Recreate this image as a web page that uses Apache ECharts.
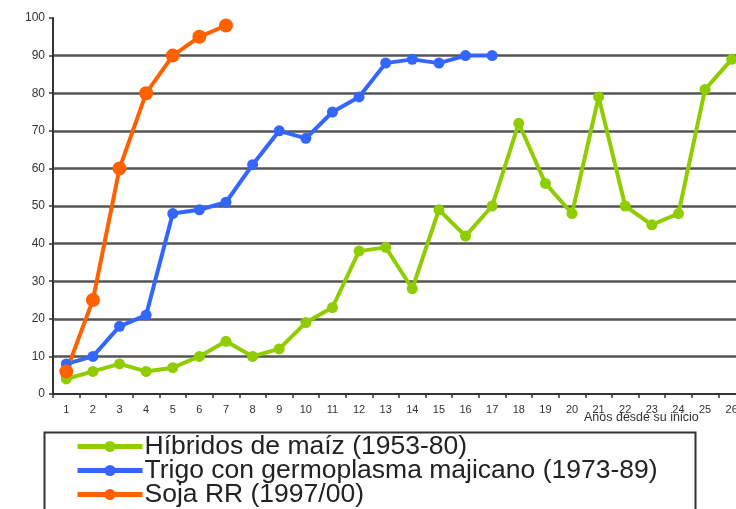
<!DOCTYPE html>
<html><head><meta charset="utf-8">
<script src="https://cdn.jsdelivr.net/npm/echarts@6/dist/echarts.min.js"></script>
<style>html,body{margin:0;padding:0;background:#fff;overflow:hidden;width:736px;height:509px}#c{width:745px;height:540px}</style>
</head><body><div id="c"></div>
<script>
const categories = ['1','2','3','4','5','6','7','8','9','10','11','12','13','14','15','16','17','18','19','20','21','22','23','24','25','26'];
const maiz = [4,6,8,6,7,10,14,10,12,19,23,38,39,28,49,42,50,72,56,48,79,50,45,48,81,89];
const trigo = [8,10,18,21,48,49,51,61,70,68,75,79,88,89,88,90,90];
const soja = [6,25,60,80,90,95,98];
const seriesNames = ['Híbridos de maíz (1953-80)','Trigo con germoplasma majicano (1973-89)','Soja RR (1997/00)'];
const axisTitle = 'Años desde su inicio';

const chart = echarts.init(document.getElementById('c'));
const mk = (name, data, color, sym) => ({
  name, type: 'line', data, symbol: 'circle', symbolSize: sym,
  itemStyle: {color}, lineStyle: {color, width: 4}, animation: false
});
chart.setOption({
  animation: false,
  grid: {left: 53, top: 18, bottom: 146, right: 0, containLabel: false},
  xAxis: {
    type: 'category', data: categories, boundaryGap: true,
    axisLine: {lineStyle: {color: '#333', width: 2}},
    axisTick: {show: true, alignWithLabel: false, length: 4, lineStyle: {color: '#333', width: 1.5}},
    axisLabel: {color: '#333', fontSize: 11, fontFamily: 'Liberation Sans', margin: 10, interval: 0}
  },
  yAxis: {
    type: 'value', min: 0, max: 100, interval: 10,
    axisLine: {show: true, lineStyle: {color: '#333', width: 2}},
    axisTick: {show: true, length: 4, lineStyle: {color: '#333', width: 1.5}},
    axisLabel: {color: '#333', fontSize: 12, fontFamily: 'Liberation Sans', margin: 8},
    splitLine: {show: true, showMaxLine: false, showMinLine: false, lineStyle: {color: '#555', width: 2.5}}
  },
  legend: {
    orient: 'vertical', left: 75, top: 433, padding: 0, itemGap: -3,
    itemWidth: 65, itemHeight: 14,
    lineStyle: {width: 5},
    textStyle: {fontSize: 26.5, lineHeight: 24, color: '#222', fontFamily: 'Liberation Sans', padding: [0, 0, 0, -3]},
    data: seriesNames
  },
  graphic: [
    {type: 'rect', left: 42, top: 430, shape: {width: 651, height: 120},
     style: {fill: 'none', stroke: '#333', lineWidth: 2}, z: -1},
    {type: 'text', left: 584, top: 411, style: {text: axisTitle, fontSize: 12.5, fill: '#333', fontFamily: 'Liberation Sans'}}
  ],
  series: [
    mk(seriesNames[0], maiz, '#8fcc00', 11),
    mk(seriesNames[1], trigo, '#3366ff', 11),
    mk(seriesNames[2], soja, '#ff6000', 14)
  ]
});
</script></body></html>
